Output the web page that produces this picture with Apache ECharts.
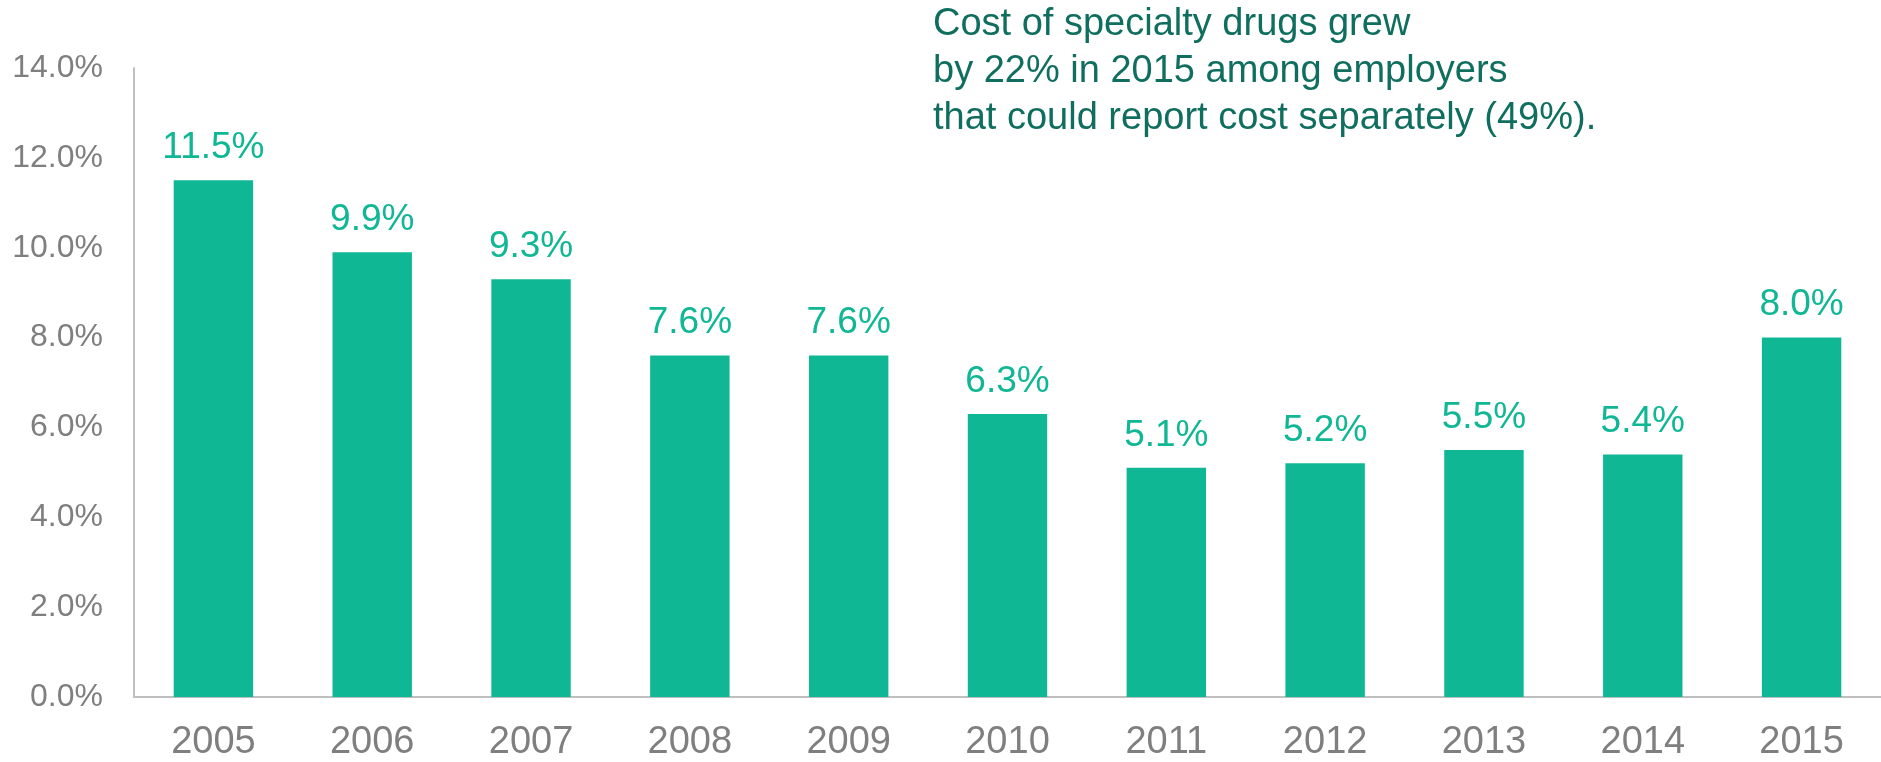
<!DOCTYPE html>
<html>
<head>
<meta charset="utf-8">
<script src="https://cdn.jsdelivr.net/npm/echarts@6/dist/echarts.min.js"></script>
<style>
html,body{margin:0;padding:0;background:#fff;}
#chart{width:1881px;height:762px;}
</style>
</head>
<body>
<div id="chart"></div>
<script>
var years = ['2005','2006','2007','2008','2009','2010','2011','2012','2013','2014','2015'];
var growth = [11.5, 9.9, 9.3, 7.6, 7.6, 6.3, 5.1, 5.2, 5.5, 5.4, 8.0];
var annotationLines = [
  'Cost of specialty drugs grew',
  'by 22% in 2015 among employers',
  'that could report cost separately (49%).'
];

var chart = echarts.init(document.getElementById('chart'));
chart.setOption({
  animation: false,
  backgroundColor: '#ffffff',
  grid: { left: 134, right: 0, top: 68, bottom: 64, containLabel: false },
  xAxis: {
    type: 'category',
    data: years,
    axisLine: { show: true, lineStyle: { color: '#bfbfbf', width: 2 } },
    axisTick: { show: false },
    axisLabel: { color: '#7f7f7f', fontSize: 38, fontFamily: 'Liberation Sans, Arial, sans-serif', margin: 27 }
  },
  yAxis: {
    type: 'value',
    min: 0, max: 14, interval: 2,
    axisLine: { show: true, lineStyle: { color: '#bfbfbf', width: 2 } },
    axisTick: { show: false },
    splitLine: { show: false },
    axisLabel: {
      color: '#7f7f7f', fontSize: 32, fontFamily: 'Liberation Sans, Arial, sans-serif', margin: 31,
      formatter: function (v) { return v.toFixed(1) + '%'; }
    }
  },
  series: [{
    type: 'bar',
    data: growth,
    barWidth: '50%',
    itemStyle: { color: '#10b794' },
    label: {
      show: true, position: 'top', distance: 14,
      color: '#10b794', fontSize: 37, fontFamily: 'Liberation Sans, Arial, sans-serif',
      formatter: function (p) { return p.value.toFixed(1) + '%'; }
    }
  }],
  graphic: [{
    type: 'text',
    x: 933, y: 1,
    style: {
      text: annotationLines.join('\n'),
      fill: '#0f6e5e',
      font: '38px "Liberation Sans", Arial, sans-serif',
      lineHeight: 47
    }
  }]
});
</script>
</body>
</html>
